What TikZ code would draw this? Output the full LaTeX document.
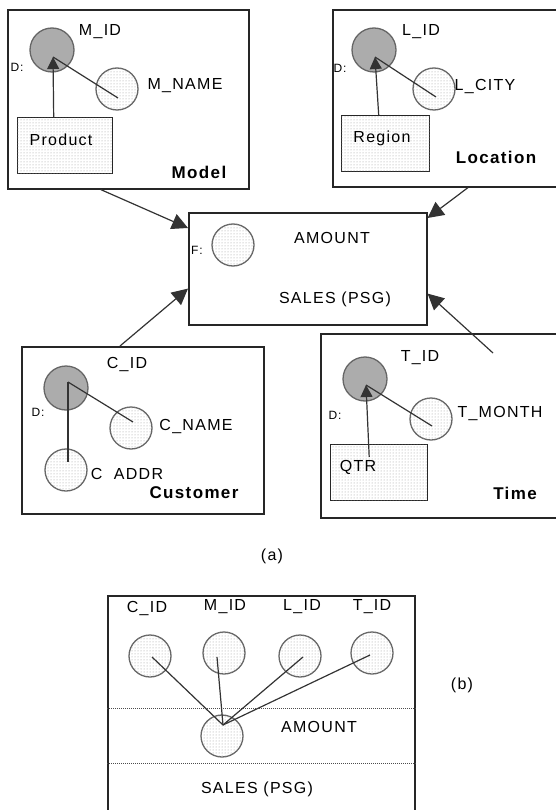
\documentclass[tikz,border=0pt]{standalone}
\usepackage{fontspec}
\setmainfont{Liberation Sans}[LetterSpace=8]
\usetikzlibrary{arrows.meta,patterns}
\begin{document}
\begin{tikzpicture}[x=1pt,y=-1pt,
  box/.style={draw=black!85, line width=1.6pt, anchor=north west, inner sep=0},
  sbox/.style={draw=black!85, line width=1.4pt, anchor=north west, inner sep=0, fill=white, postaction={pattern=dots, pattern color=gray!80}},
  keyc/.style={circle, draw=black!60, line width=1.3pt, fill=gray!65, minimum size=44pt, inner sep=0},
  attc/.style={circle, draw=black!60, line width=1.3pt, fill=white, postaction={pattern=dots, pattern color=gray!80}, minimum size=42pt, inner sep=0},
  txt/.style={inner sep=0, font=\fontsize{16}{19}\selectfont},
  btxt/.style={inner sep=0, font=\fontsize{17}{20}\selectfont\bfseries},
  stxt/.style={inner sep=0, font=\fontsize{12}{13}\selectfont},
  arr/.style={draw=black!80, line width=1.2pt, -{Triangle[length=16pt,width=16pt]}},
  sarr/.style={draw=black!80, line width=1.2pt, -{Triangle[length=12pt,width=12pt]}},
  ln/.style={draw=black!80, line width=1.2pt},
  dotln/.style={draw=black!70, line width=1pt, dash pattern=on 1pt off 1pt}
]
\useasboundingbox (0,0) rectangle (556,810);
\clip (0,0) rectangle (556,810);

% ---------- Model ----------
\node[box, minimum width=241, minimum height=179] (model) at (7,9) {};
\node[sbox, minimum width=95, minimum height=56] (product) at (17,117) {};
\node[txt] (productt) at (61,140) {Product};
\node[keyc] (mid) at (52,50) {};
\node[attc] (mname) at (117,89) {};
\node[txt] (midt) at (100,32) {M\_ID};
\node[txt] (mnamet) at (185,86) {M\_NAME};
\node[stxt] (md) at (17,67) {D:};
\node[btxt] (modelt) at (199,172) {Model};
\draw[ln] ([shift={(1,9)}]mname.center) -- ([shift={(1,7)}]mid.center);
\draw[sarr] ([xshift=-11.5pt]product.north) -- ([shift={(1,7)}]mid.center);

% ---------- Location ----------
\node[box, minimum width=240, minimum height=177] (location) at (332,9) {};
\node[sbox, minimum width=88, minimum height=56] (region) at (341,115) {};
\node[txt] (regiont) at (382,138) {Region};
\node[keyc] (lid) at (374,50) {};
\node[attc] (lcity) at (434,89) {};
\node[txt] (lidt) at (421,32) {L\_ID};
\node[txt] (lcityt) at (485,87) {L\_CITY};
\node[stxt] (ld) at (340,68) {D:};
\node[btxt] (locationt) at (496,157) {Location};
\draw[ln] ([shift={(2,8)}]lcity.center) -- ([shift={(1,7)}]lid.center);
\draw[sarr] ([xshift=-7pt]region.north) -- ([shift={(1,7)}]lid.center);

% ---------- Fact ----------
\node[box, minimum width=238, minimum height=112] (fact) at (188,212) {};
\node[attc] (amount) at (233,245) {};
\node[stxt] (fd) at (197,250) {F:};
\node[txt] (amountt) at (332,238) {AMOUNT};
\node[txt] (salest) at (335,299) {SALES (PSG)};

% ---------- Customer ----------
\node[box, minimum width=242, minimum height=167] (customer) at (21,346) {};
\node[keyc] (cid) at (66,388) {};
\node[attc] (cname) at (131,428) {};
\node[attc] (caddr) at (66,470) {};
\node[txt] (cidt) at (127,365) {C\_ID};
\node[txt] (cnamet) at (196,427) {C\_NAME};
\node[txt] (caddrt) at (127,474) {C\ \ ADDR};
\node[stxt] (cd) at (38,412) {D:};
\node[btxt] (customert) at (194,493) {Customer};
\draw[ln] ([shift={(2,-6)}]cid.center) -- ([shift={(2,-6)}]cname.center);
\draw[ln] ([shift={(2,-6)}]cid.center) -- ([shift={(2,-8)}]caddr.center);

% ---------- Time ----------
\node[box, minimum width=250, minimum height=184] (time) at (320,333) {};
\node[sbox, minimum width=97, minimum height=56] (qtr) at (330,444) {};
\node[txt] (qtrt) at (358,467) {QTR};
\node[keyc] (tid) at (365,379) {};
\node[attc] (tmonth) at (431,419) {};
\node[txt] (tidt) at (420,358) {T\_ID};
\node[txt] (tmontht) at (500,414) {T\_MONTH};
\node[stxt] (td) at (335,415) {D:};
\node[btxt] (timet) at (515,493) {Time};
\draw[ln] ([shift={(1,7)}]tmonth.center) -- ([shift={(1,6)}]tid.center);
\draw[sarr] ([shift={(-10,13)}]qtr.north) -- ([shift={(1,6)}]tid.center);

% ---------- Connectors to fact ----------
\draw[arr] ([xshift=-27.5pt]model.south) -- ([yshift=-16pt]fact.north west);
\draw[arr] ([xshift=136pt]location.south west) -- ([yshift=-6pt]fact.north east);
\draw[arr] ([xshift=99pt]customer.north west) -- ([yshift=37pt]fact.south west);
\draw[arr] ([shift={(173,20)}]time.north west) -- ([yshift=32pt]fact.south east);

\node[txt] (alabel) at (272,556) {(a)};

% ---------- (b) ----------
\node[box, minimum width=307, minimum height=240] (bbox) at (107,595) {};
\draw[dotln] ([yshift=-113pt]bbox.north west) -- ([yshift=-113pt]bbox.north east);
\draw[dotln] ([yshift=-168pt]bbox.north west) -- ([yshift=-168pt]bbox.north east);
\node[attc] (bc) at (150,656) {};
\node[attc] (bm) at (224,653) {};
\node[attc] (bl) at (300,656) {};
\node[attc] (bt) at (372,653) {};
\node[attc] (bf) at (222,736) {};
\node[txt] (bct) at (147,608) {C\_ID};
\node[txt] (bmt) at (225,607) {M\_ID};
\node[txt] (blt) at (302,607) {L\_ID};
\node[txt] (btt) at (372,607) {T\_ID};
\node[txt] (bamount) at (319,727) {AMOUNT};
\node[txt] (bsales) at (257,789) {SALES (PSG)};
\coordinate (bjoin) at ([shift={(1,-11)}]bf.center);
\draw[ln] ([shift={(2,1)}]bc.center) -- (bjoin);
\draw[ln] ([shift={(-7,4)}]bm.center) -- (bjoin);
\draw[ln] ([shift={(3,1)}]bl.center) -- (bjoin);
\draw[ln] ([shift={(-2,2)}]bt.center) -- (bjoin);
\node[txt] (blabel) at (462,685) {(b)};
\end{tikzpicture}
\end{document}
